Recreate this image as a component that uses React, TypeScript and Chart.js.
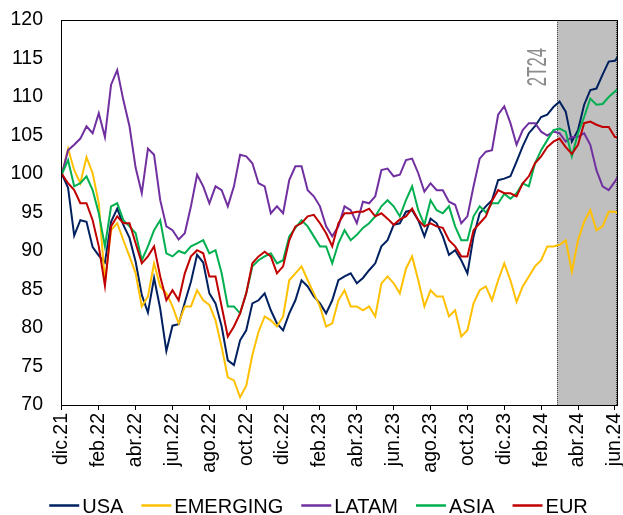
import { useEffect, useRef } from 'react';
import { Chart, registerables } from 'chart.js';

Chart.register(...registerables);

// Axis tick labels (every two months)
const TICK_LABELS = ['dic.21', 'feb.22', 'abr.22', 'jun.22', 'ago.22', 'oct.22', 'dic.22', 'feb.23', 'abr.23', 'jun.23', 'ago.23', 'oct.23', 'dic.23', 'feb.24', 'abr.24', 'jun.24'];

// Sample positions in months since dic.21 (every ~10 days) plus last observation
const T: number[] = Array.from({ length: 91 }, (_, i) => i / 3).concat([30.15]);

const USA = [
  100, 98.2, 92, 94, 93.8, 90.5, 89.4, 88.5, 93.8, 95.5, 93.4, 91.7, 88.6, 84.3, 82, 86.5, 82.5, 77, 80.3, 80.5, 83.3, 86, 89.5, 88.5,
  84.5, 83.2, 80.2, 75.8, 75.2, 78.4, 79.7, 83.2, 83.6, 84.5, 82.3, 80.6, 79.7, 81.9, 83.6, 86.2, 85.4, 84.1, 83.2, 81.9, 83.6, 86.2,
  86.7, 87.1, 85.8, 86.5, 87.5, 88.4, 90.6, 91.4, 93.4, 93.6, 95.1, 95.3, 94, 91.9, 94.2, 93.6, 91.9, 89.5, 90.1, 88.8, 87.1, 91.9, 94.9,
  95.8, 96.6, 99.2, 99.4, 99.7, 101.6, 103.6, 105.3, 106.2, 107.4, 107.7, 108.7, 109.4, 108.1, 104.2, 105.7, 109, 110.9, 111.1, 112.9, 114.6, 114.7, 115.2,
];
const EMERGING = [
  100, 103.3, 100.5, 98.8, 102.2, 100.1, 96.2, 86, 92.7, 93.6, 91.4, 89.3, 87.1, 82.8, 84.1, 88.4, 85.4, 84.5, 82.8, 80.6, 82.8, 82.8, 84.9, 83.6,
  83, 81, 77.5, 73.6, 73.2, 71, 72.5, 76.5, 79.5, 81.5, 81, 80.2, 81.5, 86.2, 87.1, 88, 86.2, 84.5, 82.8, 80.2, 80.6, 83.6,
  84.9, 82.8, 82.8, 82.3, 82.8, 81.5, 85.8, 86.7, 85.8, 84.5, 87.7, 89.3, 86.2, 82.8, 84.9, 84.1, 84.1, 81.5, 82.3, 78.9, 79.7, 83.2, 84.9,
  85.4, 83.6, 86.2, 88.4, 86.2, 83.4, 85.4, 86.7, 88, 88.8, 90.6, 90.6, 90.8, 91.4, 87.3, 91.4, 93.8, 95.3, 92.7, 93.2, 95.1, 95.1, 94.9,
];
const LATAM = [
  100, 103.1, 103.8, 104.6, 106.2, 105.3, 107.9, 104.8, 111.6, 113.5, 109.6, 106.2, 100.8, 97.5, 103.3, 102.5, 96.6, 93.2, 92.7, 91.5, 92.3, 95.8, 99.9, 98.4,
  96.2, 98.4, 97.9, 95.8, 98.4, 102.5, 102.3, 101.4, 98.8, 98.4, 94.9, 95.8, 94.9, 99.2, 101, 101, 97.9, 97.1, 95.8, 93.2, 91.9, 93.2,
  95.8, 95.3, 93.6, 96.4, 96.2, 97.1, 100.5, 100.7, 99.7, 99.9, 101.8, 102, 100.1, 97.7, 98.8, 97.9, 97.9, 96.4, 96, 93.6, 94.5, 98.4, 102,
  102.9, 103.1, 107.7, 108.8, 106.6, 103.8, 105.7, 106.6, 106.6, 105.5, 105, 105.5, 105.3, 104.2, 104.8, 104.8, 105.3, 103.8, 100.5, 98.4, 97.9, 99, 99.6,
];
const ASIA = [
  100, 101.8, 98.4, 98.8, 99.7, 97.9, 94.9, 90.6, 95.8, 96.2, 94, 93.2, 92.3, 88.8, 90.6, 92.7, 94, 89.7, 89.3, 90, 89.7, 90.6, 91, 91.4,
  89.7, 90.1, 87.1, 82.8, 82.8, 81.9, 84.5, 88, 88.8, 89.3, 89.7, 88.4, 88.8, 91.9, 93, 94, 93.2, 91.9, 90.6, 90.6, 88.4, 91,
  92.7, 91.4, 92.1, 93, 93.6, 94.5, 95.8, 96.6, 95.8, 94.5, 96.6, 98.4, 95.3, 93.4, 96.6, 95.3, 94.9, 95.8, 93.2, 91.4, 91.4, 94.5, 95.8,
  95, 96.2, 96.2, 97.4, 96.8, 97.5, 98.8, 98.4, 101.4, 103.1, 104.4, 105.7, 105.9, 105.5, 102.3, 105.3, 107.4, 109.8, 109, 109.1, 110, 110.7, 111,
];
const EUR = [
  100, 98.8, 97.9, 96.2, 96.2, 94, 90.6, 85.5, 93.2, 94.5, 93.6, 93.6, 91, 88.4, 89.3, 90.6, 86.7, 83.6, 84.9, 83.6, 87.1, 89.3, 90.1, 89.7,
  86.7, 86.7, 82.8, 78.9, 80.2, 81.9, 84.5, 88.4, 89.3, 89.9, 89.3, 87.1, 88, 91.4, 93.2, 93.6, 94.5, 94.7, 93.6, 92.3, 90.6, 93.6,
  94.9, 94.9, 95.1, 95.1, 95.5, 94.5, 94.9, 94.2, 93.4, 94.1, 94.5, 95.5, 94, 93.2, 93.6, 93.2, 93, 91.4, 90.6, 89.3, 89.3, 92.7, 93.6,
  94.5, 96.5, 97.9, 97.5, 97.5, 97.1, 98.8, 99.7, 101.4, 102.3, 103.5, 104.2, 104.6, 103.5, 102.6, 103.8, 106.6, 106.8, 106.4, 106.1, 106.1, 104.8, 104.8,
];

const SERIES_NAMES = ['USA', 'EMERGING', 'LATAM', 'ASIA', 'EUR'];
const SERIES_VALUES = [USA, EMERGING, LATAM, ASIA, EUR];
const SERIES_COLORS = ['#002060', '#FFC000', '#7030A0', '#00B050', '#C00000'];

const Y_TICKS = [70, 75, 80, 85, 90, 95, 100, 105, 110, 115, 120];
const Q2_START = 26.86; // start of shaded 2T24 period, in months
const Q2_LABEL = '2T24';

const FONT = '"Liberation Sans", Arial, sans-serif';

const bandPlugin = {
  id: 'band',
  beforeDatasetsDraw(chart: any) {
    const { ctx, chartArea, scales } = chart;
    const x0 = Math.round(scales.x.getPixelForValue(Q2_START));
    const x1 = chartArea.right;
    ctx.save();
    ctx.fillStyle = '#bfbfbf';
    ctx.fillRect(x0, chartArea.top, x1 - x0, chartArea.bottom - chartArea.top);
    ctx.strokeStyle = '#4a4a4a';
    ctx.lineWidth = 1;
    ctx.setLineDash([1, 1]);
    ctx.beginPath();
    ctx.moveTo(x0 + 0.5, chartArea.top);
    ctx.lineTo(x0 + 0.5, chartArea.bottom);
    ctx.moveTo(x1 - 1.5, chartArea.top);
    ctx.lineTo(x1 - 1.5, chartArea.bottom);
    ctx.stroke();
    ctx.setLineDash([]);
    // period label
    ctx.translate(x0 - 19, chartArea.top + 47);
    ctx.rotate(-Math.PI / 2);
    ctx.scale(0.6, 1);
    ctx.fillStyle = '#8c8c8c';
    ctx.font = `28px ${FONT}`;
    ctx.textAlign = 'center';
    ctx.textBaseline = 'middle';
    ctx.fillText(Q2_LABEL, 0, 0);
    ctx.restore();
  },
};

const framePlugin = {
  id: 'frame',
  afterDatasetsDraw(chart: any) {
    const { ctx, chartArea } = chart;
    ctx.save();
    ctx.strokeStyle = '#000';
    ctx.lineWidth = 1;
    ctx.strokeRect(chartArea.left + 0.5, chartArea.top + 0.5, chartArea.right - chartArea.left - 1, chartArea.bottom - chartArea.top);
    ctx.restore();
  },
};

const legendPlugin = {
  id: 'customLegend',
  afterDraw(chart: any) {
    const { ctx } = chart;
    ctx.save();
    ctx.font = `20px ${FONT}`;
    const lineW = 30;
    const gap = 3;
    const itemGap = 18;
    const widths = SERIES_NAMES.map((n) => lineW + gap + ctx.measureText(n).width);
    const total = widths.reduce((a, b) => a + b, 0) + itemGap * (SERIES_NAMES.length - 1);
    let x = 318.5 - total / 2;
    const yLine = 505.5;
    ctx.textBaseline = 'alphabetic';
    ctx.textAlign = 'left';
    SERIES_NAMES.forEach((n, i) => {
      ctx.strokeStyle = SERIES_COLORS[i];
      ctx.lineWidth = 2.5;
      ctx.beginPath();
      ctx.moveTo(x, yLine);
      ctx.lineTo(x + lineW, yLine);
      ctx.stroke();
      ctx.fillStyle = '#000';
      ctx.fillText(n, x + lineW + gap, 513);
      x += widths[i] + itemGap;
    });
    ctx.restore();
  },
};

export default function App() {
  const ref = useRef<HTMLCanvasElement | null>(null);

  useEffect(() => {
    if (!ref.current) return;
    const chart = new Chart(ref.current, {
      type: 'line',
      data: {
        datasets: SERIES_NAMES.map((name, i) => ({
          label: name,
          data: SERIES_VALUES[i].map((v, j) => ({ x: T[j], y: v })),
          borderColor: SERIES_COLORS[i],
          backgroundColor: SERIES_COLORS[i],
          borderWidth: 2,
          pointRadius: 0,
          tension: 0,
          order: SERIES_NAMES.length - i,
        })),
      },
      options: {
        responsive: false,
        animation: false,
        layout: { padding: { top: 20, right: 5, left: 0, bottom: 0 } },
        plugins: { legend: { display: false }, tooltip: { enabled: false } },
        scales: {
          x: {
            type: 'linear',
            min: -0.05,
            max: 30.17,
            afterBuildTicks: (s: any) => {
              s.ticks = TICK_LABELS.map((_, i) => ({ value: i * 2 }));
            },
            afterFit: (s: any) => {
              s.height = 110;
              s.paddingLeft = 0;
              s.paddingRight = 0;
            },
            ticks: {
              autoSkip: false,
              maxRotation: 90,
              minRotation: 90,
              padding: 3,
              color: '#000',
              font: { family: FONT, size: 19.5 },
              callback: (v: any) => TICK_LABELS[Math.round(Number(v) / 2)] ?? '',
            },
            grid: { display: true, drawOnChartArea: false, drawTicks: true, tickLength: 5, color: '#000' },
            border: { display: false },
          },
          y: {
            min: 70,
            max: 120,
            afterBuildTicks: (s: any) => {
              s.ticks = Y_TICKS.map((v) => ({ value: v }));
            },
            afterFit: (s: any) => {
              s.width = 61;
              s.paddingTop = 0;
              s.paddingBottom = 0;
            },
            ticks: { padding: 18, color: '#000', font: { family: FONT, size: 19.5 } },
            grid: { display: false, drawTicks: false },
            border: { display: false },
          },
        },
      },
      plugins: [bandPlugin, framePlugin, legendPlugin],
    } as any);
    return () => chart.destroy();
  }, []);

  return (
    <div style={{ position: 'absolute', left: 0, top: 0, width: 623, height: 515, background: '#fff' }}>
      <canvas ref={ref} width={623} height={515} style={{ display: 'block' }} />
    </div>
  );
}
